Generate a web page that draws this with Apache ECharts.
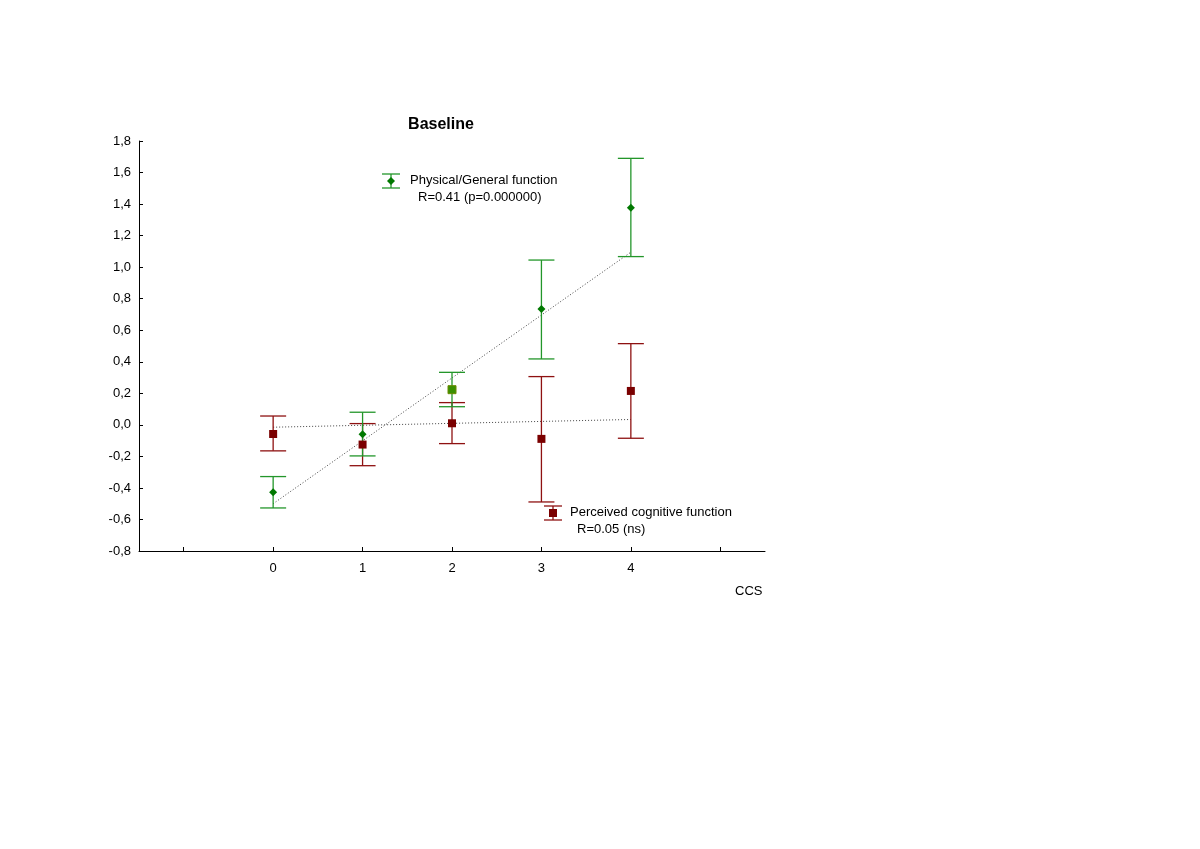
<!DOCTYPE html>
<html>
<head>
<meta charset="utf-8">
<title>Baseline</title>
<script src="https://cdn.jsdelivr.net/npm/echarts@6/dist/echarts.min.js"></script>
<style>
  html, body { margin: 0; padding: 0; background: #fff; }
  #chart { width: 1200px; height: 849px; }
</style>
</head>
<body>
<div id="chart"></div>
<script>
// CCS levels
const ccsLevels = [0, 1, 2, 3, 4];

// Physical/General function: mean and error limits
const physMean = [-0.427, -0.06, 0.223, 0.735, 1.377];
const physLow = [-0.527, -0.197, 0.115, 0.418, 1.067];
const physHigh = [-0.328, 0.08, 0.333, 1.045, 1.69];
const physFit = [-0.5, 1.095];

// Perceived cognitive function: mean and error limits
const cogMean = [-0.058, -0.125, 0.01, -0.089, 0.215];
const cogLow = [-0.165, -0.259, -0.119, -0.489, -0.085];
const cogHigh = [0.056, 0.008, 0.141, 0.306, 0.515];
const cogFit = [-0.015, 0.034];

const yTicks = [-0.8, 1.8];

const green = '#23962a';
const greenDark = '#007800';
const red = '#8e1111';
const redDark = '#7a0000';

function errorBars(low, high, color) {
  return {
    type: 'custom',
    data: ccsLevels.map((x, i) => [x, low[i], high[i]]),
    renderItem: (params, api) => {
      let top = api.coord([api.value(0), api.value(2)]);
      let bot = api.coord([api.value(0), api.value(1)]);
      let w = 13;
      let style = { stroke: color, lineWidth: 1.3 };
      return {
        type: 'group',
        children: [
          { type: 'line', shape: { x1: top[0], y1: top[1], x2: bot[0], y2: bot[1] }, style: style },
          { type: 'line', shape: { x1: top[0] - w, y1: top[1], x2: top[0] + w, y2: top[1] }, style: style },
          { type: 'line', shape: { x1: bot[0] - w, y1: bot[1], x2: bot[0] + w, y2: bot[1] }, style: style },
        ],
      };
    },
    z: 3,
  };
}

function fitLine(fit) {
  return {
    type: 'line',
    data: [[ccsLevels[0], fit[0]], [ccsLevels[ccsLevels.length - 1], fit[1]]],
    symbol: 'none',
    lineStyle: { color: '#444', width: 1, type: [1, 2] },
    z: 2,
  };
}

function legendIcon(x, y, color, markColor, symbol) {
  let children = [
    { type: 'line', shape: { x1: x, y1: y - 7, x2: x, y2: y + 7 }, style: { stroke: color, lineWidth: 1.3 } },
    { type: 'line', shape: { x1: x - 9, y1: y - 7, x2: x + 9, y2: y - 7 }, style: { stroke: color, lineWidth: 1.3 } },
    { type: 'line', shape: { x1: x - 9, y1: y + 7, x2: x + 9, y2: y + 7 }, style: { stroke: color, lineWidth: 1.3 } },
  ];
  if (symbol === 'rect') {
    children.push({ type: 'rect', shape: { x: x - 4, y: y - 4, width: 8, height: 8 }, style: { fill: markColor } });
  } else {
    children.push({ type: 'polygon', shape: { points: [[x, y - 4], [x + 4, y], [x, y + 4], [x - 4, y]] }, style: { fill: markColor } });
  }
  return { type: 'group', children: children };
}

const textFont = { fontFamily: 'Liberation Sans, Arial, sans-serif', fontSize: 13, fill: '#000' };

let option = {
  animation: false,
  backgroundColor: '#fff',
  title: {
    text: 'Baseline',
    left: 436,
    top: 112,
    textAlign: 'center',
    textStyle: { fontFamily: 'Liberation Sans, Arial, sans-serif', fontSize: 16, fontWeight: 'bold', color: '#000' },
  },
  grid: { left: 139, right: 435, top: 141, bottom: 298 },
  xAxis: {
    type: 'value',
    min: -1.5,
    max: 5.5,
    splitLine: { show: false },
    axisLine: { onZero: false, lineStyle: { color: '#000', width: 1 } },
    axisTick: { inside: true, length: 4, lineStyle: { color: '#000' }, customValues: [-1, 0, 1, 2, 3, 4, 5] },
    axisLabel: {
      customValues: ccsLevels,
      margin: 11,
      color: '#000',
      fontSize: 13,
      fontFamily: 'Liberation Sans, Arial, sans-serif',
    },
  },
  yAxis: {
    type: 'value',
    min: yTicks[0],
    max: yTicks[1],
    interval: 0.2,
    splitLine: { show: false },
    axisLine: { show: true, onZero: false, lineStyle: { color: '#000', width: 1 } },
    axisTick: { show: true, inside: true, length: 4, lineStyle: { color: '#000' } },
    axisLabel: {
      margin: 8,
      color: '#000',
      fontSize: 13,
      fontFamily: 'Liberation Sans, Arial, sans-serif',
      formatter: v => v.toFixed(1).replace('.', ','),
    },
  },
  graphic: [
    legendIcon(391, 181, green, greenDark, 'diamond'),
    { type: 'text', left: 410, top: 174, style: Object.assign({ text: 'Physical/General function' }, textFont) },
    { type: 'text', left: 418, top: 191, style: Object.assign({ text: 'R=0.41 (p=0.000000)' }, textFont) },
    legendIcon(553, 513, red, redDark, 'rect'),
    { type: 'text', left: 570, top: 506, style: Object.assign({ text: 'Perceived cognitive function' }, textFont) },
    { type: 'text', left: 577, top: 523, style: Object.assign({ text: 'R=0.05 (ns)' }, textFont) },
    { type: 'text', left: 735, top: 585, style: Object.assign({ text: 'CCS' }, textFont) },
  ],
  series: [
    fitLine(physFit),
    fitLine(cogFit),
    errorBars(cogLow, cogHigh, red),
    errorBars(physLow, physHigh, green),
    {
      type: 'scatter',
      symbol: 'rect',
      symbolSize: 8,
      itemStyle: { color: redDark, opacity: 1 },
      data: ccsLevels.map((x, i) => [x, cogMean[i]]),
      z: 4,
    },
    {
      type: 'scatter',
      symbol: 'diamond',
      symbolSize: 8,
      itemStyle: { color: greenDark, opacity: 1 },
      data: ccsLevels.map((x, i) => {
        if (x === 2) {
          return { value: [x, physMean[i]], symbol: 'rect', itemStyle: { color: '#3a9000', borderColor: '#6a8a00', borderWidth: 1 } };
        }
        return [x, physMean[i]];
      }),
      z: 5,
    },
  ],
};

let chartDom = document.getElementById('chart');
let myChart = echarts.init(chartDom, null, { renderer: 'canvas' });
myChart.setOption(option);
</script>
</body>
</html>
